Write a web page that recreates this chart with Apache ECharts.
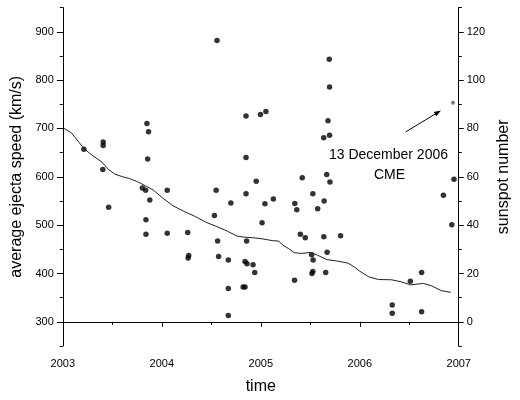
<!DOCTYPE html>
<html><head><meta charset="utf-8">
<script src="https://cdn.jsdelivr.net/npm/echarts@6/dist/echarts.min.js"></script>
<style>html,body{margin:0;padding:0;background:#fff}#c{width:520px;height:400px}</style>
</head><body><div id="c"></div>
<script>
// ejecta events: time (decimal year) and average speed (km/s)
const ejectaTime = [2003.213,2003.408,2003.408,2003.404,2003.463,2003.804,2003.837,2003.850,2003.866,2003.857,2003.879,2003.840,2003.840,2004.055,2004.055,2004.262,2004.272,2004.266,2004.549,2004.532,2004.564,2004.574,2004.558,2004.698,2004.672,2004.672,2004.672,2004.822,2004.841,2004.851,2004.851,2004.851,2004.857,2004.841,2004.861,2004.922,2004.939,2004.954,2004.997,2005.052,2005.013,2005.042,2005.127,2005.344,2005.364,2005.341,2005.400,2005.449,2005.419,2005.514,2005.529,2005.526,2005.517,2005.526,2005.575,2005.640,2005.637,2005.656,2005.670,2005.666,2005.699,2005.679,2005.636,2005.695,2005.692,2005.695,2005.806,2006.328,2006.328,2006.511,2006.625,2006.625,2006.845,2006.930,2006.952];
const ejectaSpeed = [657,672,665,615,537,577,572,710,693,637,552,511,481,572,483,485,437,432,572,520,467,435,882,546,428,369,313,372,372,726,640,565,467,425,420,418,402,591,729,735,505,544,554,545,532,386,481,474,598,439,428,404,400,565,534,550,476,402,444,605,589,716,681,686,843,786,478,335,318,384,402,321,562,501,595];
// 13 December 2006 CME
const cmeTime = [2006.942];
const cmeSpeed = [753];
// smoothed sunspot number
const sunspotTime = [2003.005,2003.087,2003.135,2003.216,2003.297,2003.395,2003.460,2003.525,2003.606,2003.672,2003.752,2003.833,2003.915,2004.013,2004.110,2004.223,2004.337,2004.451,2004.564,2004.662,2004.759,2004.841,2004.922,2005.019,2005.117,2005.182,2005.214,2005.280,2005.338,2005.409,2005.500,2005.572,2005.670,2005.767,2005.880,2005.945,2005.994,2006.092,2006.189,2006.319,2006.416,2006.514,2006.644,2006.725,2006.823,2006.920];
const sunspotNumber = [80.2,78.2,75.7,71.6,68.9,66.1,63.1,61.1,60.0,59.3,58.0,56.3,54.5,51.1,48.1,45.7,43.6,41.1,39.3,37.5,35.5,35.0,34.8,34.3,33.6,33.4,32.0,30.3,28.6,28.3,28.7,27.6,25.7,25.2,24.3,22.7,21.1,18.6,17.5,17.4,16.6,15.3,15.9,14.9,12.9,12.2];
const speedTicks = [300,400,500,600,700,800,900];
const sunspotTicks = [0,20,40,60,80,100,120];
const yearTicks = [2003,2004,2005,2006,2007];

const FONT = 'Liberation Sans, Arial, sans-serif';
const chart = echarts.init(document.getElementById('c'), null, {renderer:'canvas'});
const lbl = {color:'#000', fontFamily:FONT, fontSize:11};
const nameStyle = {color:'#000', fontFamily:FONT, fontSize:16};
const line = {show:true, lineStyle:{color:'#000', width:1}};

chart.setOption({
  animation:false,
  backgroundColor:'#fff',
  grid:{left:62.8, right:46.7, top:7.6, bottom:50.3, containLabel:false},
  xAxis:{type:'value', min:2003, max:2007, interval:1,
    name:'time', nameLocation:'middle', nameGap:33, nameTextStyle:nameStyle,
    axisLine:line, axisTick:{show:true, length:5, lineStyle:{color:'#000'}},
    minorTick:{show:true, splitNumber:2, length:3, lineStyle:{color:'#000'}},
    axisLabel:Object.assign({margin:12, formatter:v=>yearTicks.indexOf(v)>=0?String(v):''}, lbl),
    splitLine:{show:false}},
  yAxis:[
    {type:'value', position:'left', min:250, max:950, interval:50,
      name:'average ejecta speed (km/s)', nameLocation:'middle', nameGap:34, nameRotate:90, nameTextStyle:nameStyle,
      axisLine:line, axisTick:{show:true, length:3, lineStyle:{color:'#000'}},
      axisLabel:Object.assign({margin:9, formatter:v=>speedTicks.indexOf(v)>=0?String(v):''}, lbl),
      splitLine:{show:false}},
    {type:'value', position:'left', min:250, max:950,
      axisLine:{show:false}, axisTick:{show:true, length:6, customValues:speedTicks, lineStyle:{color:'#000'}},
      axisLabel:{show:false}, splitLine:{show:false}},
    {type:'value', position:'right', min:-10, max:130, interval:10,
      name:'sunspot number', nameLocation:'middle', nameGap:28, nameRotate:90, nameTextStyle:nameStyle,
      axisLine:line, axisTick:{show:true, length:3, lineStyle:{color:'#000'}},
      axisLabel:Object.assign({margin:8, formatter:v=>sunspotTicks.indexOf(v)>=0?String(v):''}, lbl),
      splitLine:{show:false}},
    {type:'value', position:'right', min:-10, max:130,
      axisLine:{show:false}, axisTick:{show:true, length:5, customValues:sunspotTicks, lineStyle:{color:'#000'}},
      axisLabel:{show:false}, splitLine:{show:false}}
  ],
  series:[
    {type:'line', yAxisIndex:2, data:sunspotTime.map((t,i)=>[t,sunspotNumber[i]]),
      showSymbol:false, symbol:'none', lineStyle:{color:'#222', width:1}},
    {type:'scatter', yAxisIndex:0, data:ejectaTime.map((t,i)=>[t,ejectaSpeed[i]]),
      symbol:'circle', symbolSize:5.5, itemStyle:{color:'#000'}},
    {type:'scatter', yAxisIndex:0, data:cmeTime.map((t,i)=>[t,cmeSpeed[i]]),
      symbol:'circle', symbolSize:4, itemStyle:{color:'#555'}}
  ]
});

function px(t,v){return chart.convertToPixel({xAxisIndex:0,yAxisIndex:0},[t,v]);}
const tail = px(2006.465, 693), tip = px(2006.82, 737);
const ang = Math.atan2(tip[1]-tail[1], tip[0]-tail[0]);
const ah = 7, aw = 2.5;
const b = [tip[0]-ah*Math.cos(ang), tip[1]-ah*Math.sin(ang)];
const p1 = [b[0]+aw*Math.sin(ang), b[1]-aw*Math.cos(ang)];
const p2 = [b[0]-aw*Math.sin(ang), b[1]+aw*Math.cos(ang)];
const t1 = px(2006.29, 644), t2 = px(2006.30, 603);
chart.setOption({graphic:[
  {type:'line', shape:{x1:tail[0],y1:tail[1],x2:b[0],y2:b[1]}, style:{stroke:'#000', lineWidth:1}},
  {type:'polygon', shape:{points:[tip,p1,p2]}, style:{fill:'#000'}},
  {type:'text', x:t1[0], y:t1[1], style:{text:'13 December 2006', fill:'#000', font:'14px '+FONT, align:'center', verticalAlign:'middle'}},
  {type:'text', x:t2[0], y:t2[1], style:{text:'CME', fill:'#000', font:'14px '+FONT, align:'center', verticalAlign:'middle'}}
]});
</script></body></html>
